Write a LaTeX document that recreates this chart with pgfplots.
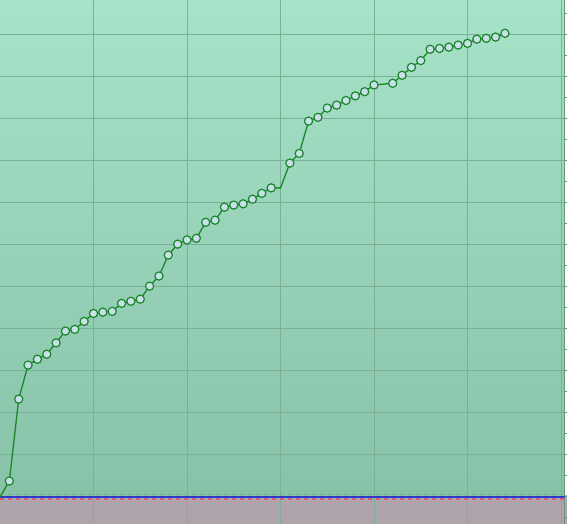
\documentclass[border=0pt]{standalone}
\usepackage{pgfplots}
\usepackage{pgfplotstable}
\pgfplotsset{compat=1.18}
\definecolor{bgtop}{RGB}{167,227,201}
\definecolor{bgbot}{RGB}{134,192,166}
\definecolor{mauve}{RGB}{175,163,172}
\definecolor{gridc}{RGB}{122,176,149}
\definecolor{linec}{RGB}{28,134,44}
\definecolor{markfill}{RGB}{200,224,232}
\definecolor{axc}{RGB}{104,148,126}
\definecolor{gdash}{RGB}{96,200,86}
\definecolor{rdash}{RGB}{222,92,112}
\definecolor{bline}{RGB}{48,58,196}
\definecolor{band}{RGB}{150,182,196}

\pgfplotstableread{
x y
0 0.0
1 3.8
2 23.3
3 31.4
4 32.8
5 34.0
6 36.7
7 39.5
8 39.9
9 41.8
10 43.7
11 44.0
12 44.2
13 46.1
14 46.6
15 47.1
16 50.2
17 52.6
18 57.6
19 60.2
20 61.2
21 61.6
22 65.4
23 65.9
24 69.0
25 69.5
26 69.8
27 70.9
28 72.3
29 73.6
30 73.6
31 79.5
32 81.8
33 89.5
34 90.4
35 92.6
36 93.3
37 94.4
38 95.5
39 96.5
40 98.1
42 98.5
43 100.4
44 102.3
45 103.9
46 106.6
47 106.8
48 107.1
49 107.6
50 108.0
51 109.0
52 109.2
53 109.5
54 110.4
}\datatable

\begin{document}
\begin{tikzpicture}
\begin{axis}[
  set layers,
  scale only axis,
  width=282.25pt, height=262pt,
  xmin=0, xmax=60.37,
  ymin=-6.43, ymax=118.33,
  axis x line*=bottom,
  axis y line*=right,
  x axis line style={draw=none},
  y axis line style={draw=axc, line width=0.75pt},
  xtick={10,20,...,60},
  xticklabels={},
  xtick style={draw=none},
  ytick={-10,0,...,120},
  minor ytick={-5,5,...,115},
  yticklabels={},
  tick align=outside,
  major tick length=1.5pt,
  minor tick length=1.5pt,
  ytick style={draw=axc, line width=0.5pt},
  minor tick style={draw=axc, line width=0.5pt},
  xmajorgrids, ymajorgrids,
  grid style={draw=gridc, line width=0.5pt},
  clip=true,
]
\begin{pgfonlayer}{axis background}
\fill[top color=bgtop, bottom color=bgbot] (rel axis cs:0,0) rectangle (rel axis cs:1,1);
\fill[mauve] (axis cs:0,-10) rectangle (axis cs:62,0);
\fill[band] (axis cs:0,-0.5) rectangle (axis cs:62,0.5);
\end{pgfonlayer}
\addplot[draw=gdash, line width=0.6pt, dash pattern=on 2pt off 2pt, forget plot] coordinates {(0,0.5) (62,0.5)};
\addplot[draw=rdash, line width=0.6pt, dash pattern=on 2pt off 2pt, forget plot] coordinates {(0,-0.5) (62,-0.5)};
\addplot[draw=bline, line width=0.7pt, forget plot] coordinates {(0,0) (62,0)};
\addplot[draw=linec, line width=0.65pt, mark=none] table[x=x, y=y] {\datatable};
\addplot[only marks, mark=*, mark size=2.05pt,
  mark options={fill=markfill, draw=linec, line width=0.6pt},
  skip coords between index={0}{1},
  skip coords between index={30}{31}] table[x=x, y=y] {\datatable};
\end{axis}
\pgfresetboundingbox
\path (0,0) rectangle (283.5pt,262pt);
\end{tikzpicture}
\end{document}
